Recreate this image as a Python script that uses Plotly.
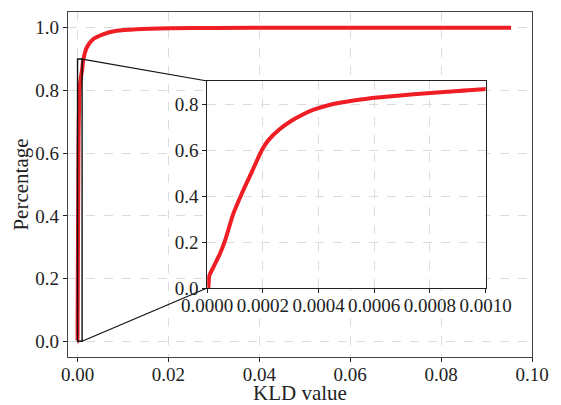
import plotly.graph_objects as go

# CDF of the KLD values
kld_head = [0.0, 0.0000036, 0.0000072, 0.0000216, 0.000045, 0.0000637, 0.0000936,
            0.000124, 0.00016, 0.000196, 0.00022, 0.00026, 0.0003, 0.00034,
            0.00038, 0.000442, 0.000526, 0.000622, 0.000742, 0.000862, 0.001, 0.00123]
cdf_head = [0.0, 0.0, 0.052, 0.089, 0.147, 0.205, 0.322,
            0.41, 0.504, 0.599, 0.643, 0.69, 0.725, 0.752,
            0.774, 0.797, 0.815, 0.829, 0.842, 0.853, 0.865, 0.894]
kld_tail = [0.002, 0.0034, 0.0056, 0.0086, 0.013, 0.0203, 0.03, 0.05, 0.07, 0.0954]
cdf_tail = [0.936, 0.963, 0.979, 0.99, 0.995, 0.998, 0.999, 1.0, 1.0, 1.0]

x_ticks = [0.0, 0.02, 0.04, 0.06, 0.08, 0.10]
y_ticks = [0.0, 0.2, 0.4, 0.6, 0.8, 1.0]
inset_x_ticks = [0.0, 0.0002, 0.0004, 0.0006, 0.0008, 0.001]
inset_y_ticks = [0.0, 0.2, 0.4, 0.6, 0.8]

red = "rgb(238,30,36)"
font = "Liberation Serif, Times New Roman, serif"
xr = [-0.0021, 0.1]
yr = [-0.05, 1.05]
zoom_x = [0.0, 0.001]
zoom_y = [0.0, 0.9]
inset_dom_x = [0.3, 0.9]
inset_dom_y = [0.2, 0.8]

fig = go.Figure()
fig.add_trace(go.Scatter(x=kld_head + kld_tail, y=cdf_head + cdf_tail, mode="lines",
                         line=dict(color=red, width=4, shape="spline", smoothing=0.6),
                         xaxis="x", yaxis="y", showlegend=False))
fig.add_trace(go.Scatter(x=kld_head, y=cdf_head, mode="lines",
                         line=dict(color=red, width=4, shape="spline", smoothing=0.6),
                         xaxis="x2", yaxis="y2", showlegend=False))

grid = dict(showgrid=True, gridcolor="#dcdcdc", griddash="dash", gridwidth=1,
            zeroline=False, showline=True, mirror=True, ticks="outside",
            ticklen=4, tickwidth=1, tickcolor="#222", automargin=False,
            tickfont=dict(family=font, size=19, color="#222"))

fig.update_layout(
    width=561, height=405,
    margin=dict(l=68, r=29, t=12, b=48),
    plot_bgcolor="white", paper_bgcolor="white",
    font=dict(family=font, color="#222"),
    xaxis=dict(range=xr, tickvals=x_ticks, tickformat=".2f", linecolor="#444",
               linewidth=1.3, domain=[0, 1], ticklabelstandoff=-4,
               title=dict(text="KLD value", font=dict(family=font, size=21), standoff=0),
               **grid),
    yaxis=dict(range=yr, tickvals=y_ticks, tickformat=".1f", linecolor="#444",
               linewidth=1.3, domain=[0, 1],
               title=dict(text="Percentage", font=dict(family=font, size=21), standoff=0),
               **grid),
    xaxis2=dict(range=[0, 0.001], tickvals=inset_x_ticks, tickformat=".4f",
                linecolor="#222", linewidth=1, domain=inset_dom_x, anchor="y2",
                ticklabelstandoff=-4, **grid),
    yaxis2=dict(range=[0, 0.9], tickvals=inset_y_ticks, tickformat=".1f",
                linecolor="#222", linewidth=1, domain=inset_dom_y, anchor="x2", **grid),
)

# zoom box on the main axes and the two connector lines to the inset corners
def to_x(p):
    return xr[0] + p * (xr[1] - xr[0])

def to_y(p):
    return yr[0] + p * (yr[1] - yr[0])

fig.add_shape(type="rect", xref="x", yref="y", x0=zoom_x[0], x1=zoom_x[1],
              y0=zoom_y[0], y1=zoom_y[1], line=dict(color="#111", width=1.4))
fig.add_shape(type="line", xref="x", yref="y", x0=zoom_x[1], y0=zoom_y[1],
              x1=to_x(inset_dom_x[0]), y1=to_y(inset_dom_y[1]),
              line=dict(color="#111", width=1.2))
fig.add_shape(type="line", xref="x", yref="y", x0=zoom_x[1], y0=zoom_y[0],
              x1=to_x(inset_dom_x[0]), y1=to_y(inset_dom_y[0]),
              line=dict(color="#111", width=1.2))

# the page body has a default 8px margin; drop it so the figure sits at the corner
fig.write_html("out.html", config={"displayModeBar": False},
               post_script="document.body.style.margin='0';")
